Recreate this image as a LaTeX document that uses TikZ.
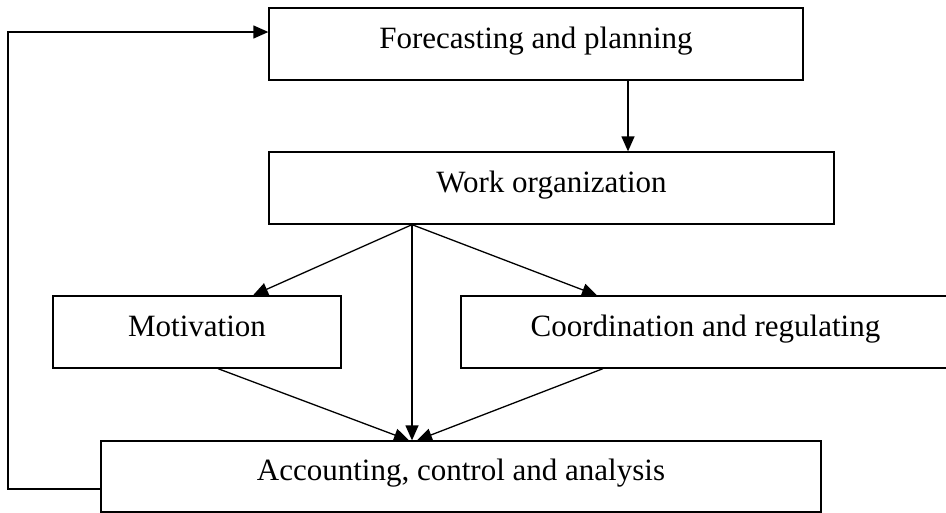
\documentclass[tikz,border=0pt]{standalone}
\usepackage{fontspec}
\setmainfont{Liberation Serif}
\usetikzlibrary{arrows.meta}
\begin{document}
\begin{tikzpicture}[x=1pt,y=-1pt,
  box/.style={draw,line width=1.3pt,inner sep=0pt,minimum height=72pt,
    font=\fontsize{31}{37}\selectfont,text height=21pt,text depth=13pt},
  arr/.style={line width=1.3pt,-{Triangle[length=15pt,width=13pt]}},
  ln/.style={line width=1.3pt}]
\useasboundingbox (0,0) rectangle (946,512);
\node[box,minimum width=534pt] (fc) at (536,44) {Forecasting and planning};
\node[box,minimum width=565pt] (wo) at (551.5,188) {Work organization};
\node[box,minimum width=288pt] (mo) at (197,332) {Motivation};
\node[box,minimum width=489pt] (co) at (705.5,332) {Coordination and regulating};
\node[box,minimum width=720pt,minimum height=71pt] (ac) at (461,476.5) {Accounting, control and analysis};
\coordinate (fork) at (wo.south -| 412,0);
\coordinate (fb1) at (8,489);
\coordinate (fb2) at (8,32);
\draw[arr] (fc.south -| 628,0) -- (wo.north -| 628,0);
\draw[arr] (fork) -- (mo.north -| 253,0);
\draw[arr] (fork) -- (ac.north -| 412,0);
\draw[arr] (fork) -- (co.north -| 597,0);
\draw[arr] (mo.south -| 218,0) -- (ac.north -| 409,0);
\draw[arr] (co.south -| 603,0) -- (ac.north -| 417,0);
\draw[arr] (ac.west |- fb1) -- (fb1) -- (fb2) -- (fc.west |- fb2);
\end{tikzpicture}
\end{document}
